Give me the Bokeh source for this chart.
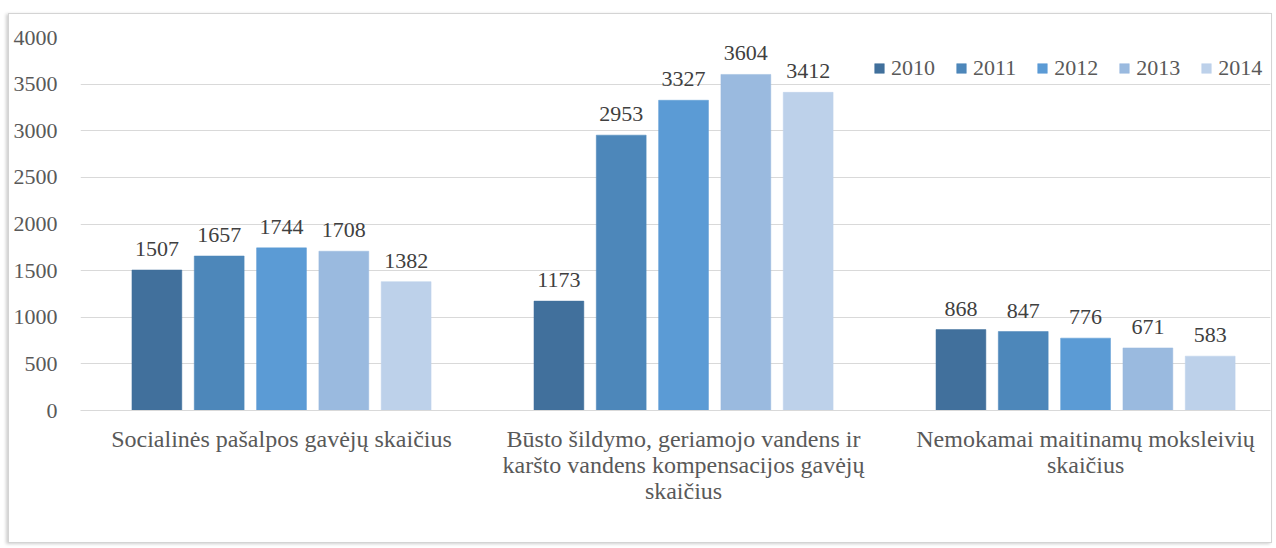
from bokeh.plotting import figure
from bokeh.models import ColumnDataSource, FixedTicker, Legend, LegendItem, Range1d
from bokeh.core.properties import value
from bokeh.embed import file_html
from bokeh.resources import INLINE

categories = [
    "Socialinės pašalpos gavėjų skaičius",
    "Būsto šildymo, geriamojo vandens ir\nkaršto vandens kompensacijos gavėjų\nskaičius",
    "Nemokamai maitinamų moksleivių\nskaičius",
]
years = ["2010", "2011", "2012", "2013", "2014"]
v2010 = [1507, 1173, 868]
v2011 = [1657, 2953, 847]
v2012 = [1744, 3327, 776]
v2013 = [1708, 3604, 671]
v2014 = [1382, 3412, 583]
series = [v2010, v2011, v2012, v2013, v2014]
colors = ["#41709C", "#4D87BA", "#5B9BD5", "#9ABADF", "#BDD1EA"]
yticks = [0, 500, 1000, 1500, 2000, 2500, 3000, 3500, 4000]

FONT = "'Liberation Serif'"

p = figure(width=1264, height=530, output_backend="svg", toolbar_location=None,
           x_range=Range1d(-0.5, 2.46), y_range=Range1d(0, 4000),
           min_border_left=71, min_border_right=3, min_border_top=23, min_border_bottom=134)
p.styles = {"border": "1px solid #d4d4d4", "box-shadow": "-2px 1px 3px #cfcfcf",
            "margin-left": "8px", "margin-top": "13px"}
p.outline_line_color = None
p.background_fill_color = "white"
p.border_fill_color = "white"

pitch = 0.155
bw = 0.124
items = []
for i, (yr, vals, c) in enumerate(zip(years, series, colors)):
    xs = [k + (i - 2) * pitch for k in range(len(categories))]
    src = ColumnDataSource(dict(x=xs, top=vals, lbl=[str(v) for v in vals]))
    r = p.vbar(x="x", top="top", width=bw, bottom=0, source=src,
               fill_color=c, line_color=c, line_width=0.5)
    p.text(x="x", y="top", text="lbl", source=src, text_align="center",
           text_baseline="bottom", y_offset=-14, text_font=value(FONT),
           text_font_size="22px", text_color="#404040")
    items.append(LegendItem(label=yr, renderers=[r]))

legend = Legend(items=items, orientation="horizontal", location=(793, 329),
                glyph_width=12, glyph_height=12, label_standoff=6, spacing=20,
                padding=0, margin=0, border_line_color=None, background_fill_alpha=0,
                label_text_font=FONT, label_text_font_size="22px",
                label_text_color="#595959", label_height=22)
p.add_layout(legend)

p.xaxis.ticker = FixedTicker(ticks=[0, 1, 2])
p.xaxis.major_label_overrides = {i: c for i, c in enumerate(categories)}
p.xaxis.major_tick_line_color = None
p.xaxis.minor_tick_line_color = None
p.xaxis.axis_line_color = "#d9d9d9"
p.xaxis.major_label_standoff = 9
p.xaxis.major_label_text_font = FONT
p.xaxis.major_label_text_font_size = "24px"
p.xaxis.major_label_text_color = "#595959"
p.xaxis.major_label_text_line_height = 1.0

p.yaxis.ticker = FixedTicker(ticks=yticks)
p.yaxis.axis_line_color = None
p.yaxis.major_tick_line_color = None
p.yaxis.minor_tick_line_color = None
p.yaxis.major_label_standoff = 17
p.yaxis.major_label_text_font = FONT
p.yaxis.major_label_text_font_size = "22px"
p.yaxis.major_label_text_color = "#595959"

p.xgrid.grid_line_color = None
p.ygrid.grid_line_color = "#d9d9d9"
p.ygrid.grid_line_width = 1

open("out.html", "w").write(file_html(p, INLINE))
